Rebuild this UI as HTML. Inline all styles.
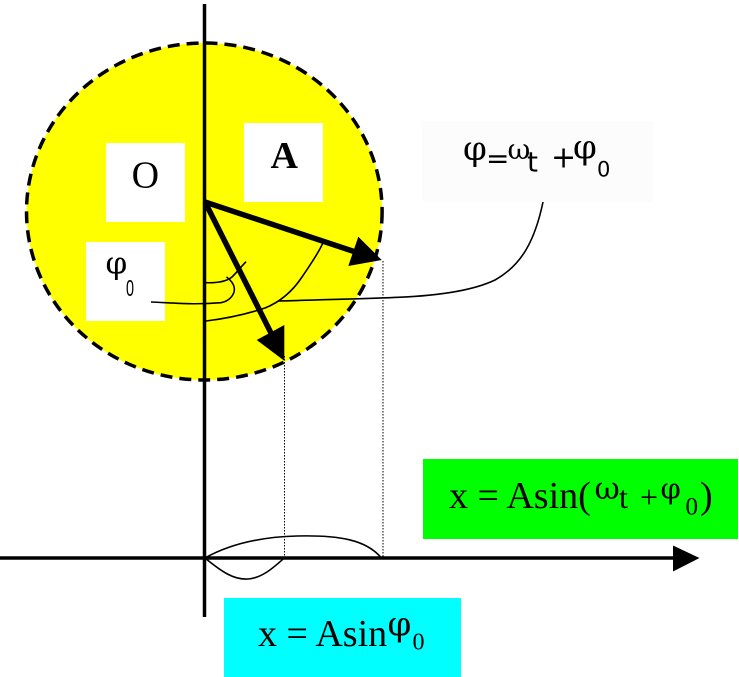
<!DOCTYPE html>
<html><head><meta charset="utf-8"><style>
html,body{margin:0;padding:0;background:#fff;}
svg{display:block;}
</style></head><body>
<svg width="739" height="677" viewBox="0 0 739 677" xmlns="http://www.w3.org/2000/svg">
<rect x="0" y="0" width="739" height="677" fill="#fff"/>
<!-- circle -->
<ellipse cx="204.3" cy="211.5" rx="177.8" ry="168.5" fill="#ffff00" stroke="#000" stroke-width="3.5" stroke-dasharray="12 7"/>
<!-- formula box -->
<rect x="422" y="121" width="231" height="81" fill="#fcfcfc"/>
<!-- boxes -->
<rect x="106" y="143" width="79" height="79" fill="#fff"/>
<rect x="244" y="123" width="79" height="79" fill="#fff"/>
<rect x="86" y="242" width="79" height="79" fill="#fff"/>
<rect x="423" y="459" width="315" height="80" fill="#00ff00"/>
<rect x="224" y="598" width="237" height="79" fill="#00ffff"/>
<!-- dotted verticals -->
<line x1="284.5" y1="356" x2="284.5" y2="558" stroke="#000" stroke-width="1" stroke-dasharray="1.5 1.5"/>
<line x1="383" y1="261" x2="383" y2="558" stroke="#000" stroke-width="1" stroke-dasharray="1.5 1.5"/>
<!-- axes -->
<line x1="204.5" y1="4" x2="204.5" y2="617" stroke="#000" stroke-width="3.5"/>
<line x1="0" y1="558" x2="675" y2="558" stroke="#000" stroke-width="3.5"/>
<polygon points="673,545.5 699.5,558 673,571.5" fill="#000"/>
<!-- vectors -->
<line x1="205" y1="202" x2="354" y2="251.5" stroke="#000" stroke-width="5.5"/>
<polygon points="358.3,236.7 381.7,260 348.3,266" fill="#000"/>
<line x1="205" y1="202" x2="271" y2="333" stroke="#000" stroke-width="5.5"/>
<polygon points="256.7,340 284.3,325 284.3,360.7" fill="#000"/>
<!-- arcs and connectors -->
<g fill="none" stroke="#000" stroke-width="1.6">
<path d="M206,282.7 C216,283 226,282 232,277 C237,272 241,267 246,261.7"/>
<path d="M151,302 C175,303 195,305 221,302.7 C230,301 235,294 234.3,288 C233.5,283 230,279.5 226.5,277"/>
<path d="M206,321 C230,318 250,313 265,308 C280,302 292,292 302,277 C310,265 318,254 322.7,243.3"/>
<path d="M543,202 C535,240 522,265 495,280 C470,292 430,296 398,297.3 C360,299 310,300 278,301"/>
<path d="M205,558 C228,545 258,537 297,536 C340,535 366,540 381,557.5"/>
<path d="M205,558 C222,572 234,580 248,579 C262,578 273,568 284.3,558"/>
</g>
<!-- texts -->
<g font-family="'Liberation Serif', serif" fill="#000">
<text x="145.3" y="187.5" font-size="38" text-anchor="middle">O</text>
<text x="284.2" y="168" font-size="38" font-weight="bold" text-anchor="middle">A</text>
<text x="105.5" y="273.5" font-size="31" font-family="'DejaVu Serif', serif">φ</text>
<text x="126" y="296" font-size="23" font-family="'Liberation Sans', sans-serif" textLength="8" lengthAdjust="spacingAndGlyphs">0</text>
<!-- cyan -->
<text x="258" y="646" font-size="38">x = Asin</text>
<text x="387.5" y="635.5" font-size="34" font-family="'DejaVu Serif', serif">φ</text>
<text x="412.5" y="649.3" font-size="24">0</text>
<!-- green -->
<text x="449" y="508" font-size="38">x = Asin(</text>
<text x="594.5" y="499" font-size="31" font-family="'DejaVu Serif', serif">ω</text>
<text x="619" y="508" font-size="32">t</text>
<text x="640" y="508" font-size="32">+</text>
<text x="660.5" y="498.5" font-size="29" font-family="'DejaVu Serif', serif">φ</text>
<text x="685.5" y="514.3" font-size="25">0</text>
<text x="700" y="508" font-size="38">)</text>
<!-- formula -->
<text x="463" y="160" font-size="34" font-family="'DejaVu Serif', serif">φ</text>
<text x="486" y="168" font-size="28" font-family="'DejaVu Sans', sans-serif">=</text>
<text x="507.5" y="158.8" font-size="28" font-family="'DejaVu Serif', serif">ω</text>
<text x="527" y="171.7" font-size="28" font-family="'DejaVu Sans', sans-serif">t</text>
<text x="551" y="167.7" font-size="30" font-family="'DejaVu Sans', sans-serif">+</text>
<text x="573" y="158.7" font-size="34" font-family="'DejaVu Serif', serif">φ</text>
<text x="597" y="176.7" font-size="21" font-family="'DejaVu Sans', sans-serif">0</text>
</g>
</svg>
</body></html>
